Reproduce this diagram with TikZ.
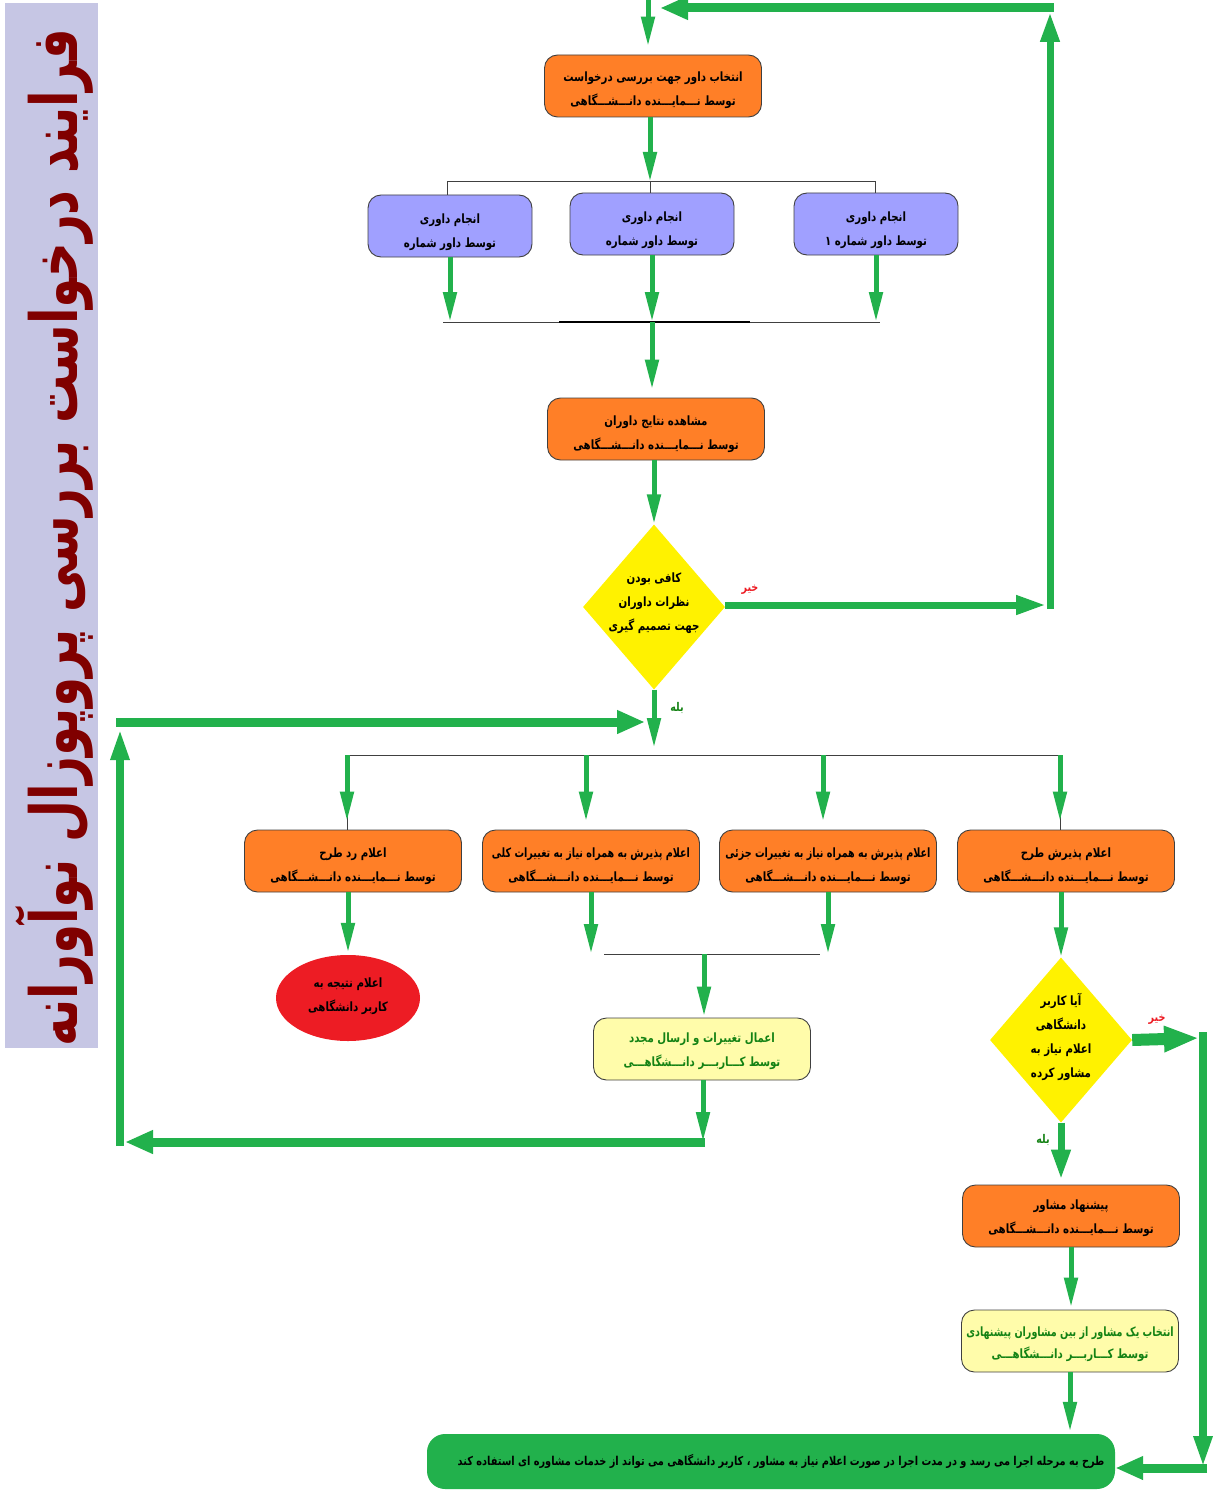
\documentclass[tikz,border=0pt]{standalone}
\usepackage{fontspec}
\newfontfamily\arabicfont[Script=Arabic]{DejaVu Sans}
\TeXXeTstate=1
\usetikzlibrary{arrows.meta,shapes.geometric}
\newcommand\fa[1]{\scalebox{0.8}[1]{\arabicfont\bfseries\beginR #1\endR}}
\newcommand\fan[1]{\scalebox{0.75}[1]{\arabicfont\bfseries\beginR #1\endR}}
\definecolor{orangebox}{RGB}{255,127,39}
\definecolor{bluebox}{RGB}{160,160,255}
\definecolor{diayellow}{RGB}{255,242,0}
\definecolor{redell}{RGB}{237,28,36}
\definecolor{lightyel}{RGB}{255,252,170}
\definecolor{agreen}{RGB}{34,177,76}
\definecolor{txtgreen}{RGB}{20,130,20}
\definecolor{titlebg}{RGB}{198,198,228}
\definecolor{titlered}{RGB}{128,0,0}
\definecolor{labelred}{RGB}{237,28,36}
\begin{document}
\begin{tikzpicture}[x=1pt,y=-1pt,
  boxbase/.style={draw=black!75, line width=0.9pt, rounded corners=13pt, inner sep=0pt,
    minimum width=217pt, minimum height=62pt},
  obox/.style={boxbase, fill=orangebox},
  bbox/.style={boxbase, fill=bluebox, minimum width=164pt},
  ybox/.style={boxbase, fill=lightyel},
  btxt/.style={align=center, inner sep=0pt, font=\fontsize{12.8}{24}\selectfont},
  gtxt/.style={btxt, text=txtgreen},
  dshape/.style={diamond, fill=diayellow, inner sep=0pt, minimum width=142pt, minimum height=165pt},
  dtext/.style={align=center, inner sep=0pt, font=\fontsize{12.8}{23.8}\selectfont},
  jline/.style={draw=black!75, line width=1pt},
  garrow/.style={draw=agreen, line width=5pt, -{Triangle[length=30pt,width=13pt]}},
  gmid/.style={draw=agreen, line width=7pt, -{Triangle[length=30pt,width=18pt]}},
  gthick/.style={draw=agreen, line width=9pt, -{Triangle[length=28pt,width=22pt]}},
  gvert/.style={draw=agreen, line width=8pt, -{Triangle[length=32pt,width=17pt]}},
  gfat/.style={draw=agreen, line width=12pt, -{Triangle[length=35pt,width=24pt]}},
  lab/.style={inner sep=0pt, font=\fontsize{12}{12}\selectfont}
]
\useasboundingbox (0,0) rectangle (1214,1490);

% title
\node[fill=titlebg, minimum width=93pt, minimum height=1045pt, inner sep=0pt] (tbar) at (51.5,525.5) {};
\node[rotate=90, text=titlered, inner sep=0pt, font=\fontsize{52}{56}\selectfont] (title) at (54,538)
  {\scalebox{0.93}[1.25]{\arabicfont\bfseries\beginR فرایند درخواست بررسی پروپوزال نوآورانه\endR}};

% upper part
\node[obox] (b1) at (653,86) {};
\node[btxt] (b1t) at ([yshift=-4pt]b1.center) {\fa{انتخاب داور جهت بررسی درخواست}\\\fa{توسط نـــمایـــنده دانـــشـــگاهی}};
\node[bbox] (bL) at (450,226) {};
\node[btxt] (bLt) at ([yshift=-6pt]bL.center) {\fa{انجام داوری}\\\fa{توسط داور شماره}};
\node[bbox] (bC) at (652,224) {};
\node[btxt] (bCt) at ([yshift=-6pt]bC.center) {\fa{انجام داوری}\\\fa{توسط داور شماره}};
\node[bbox] (bR) at (876,224) {};
\node[btxt] (bRt) at ([yshift=-6pt]bR.center) {\fa{انجام داوری}\\\fa{توسط داور شماره ۱}};
\node[obox] (b2) at (656,429) {};
\node[btxt] (b2t) at ([yshift=-5pt]b2.center) {\fa{مشاهده نتایج داوران}\\\fa{توسط نـــمایـــنده دانـــشـــگاهی}};
\node[dshape] (d1) at (654,607) {};
\node[dtext] (d1t) at ([yshift=4pt]d1.center) {\fa{کافی بودن}\\\fa{نظرات داوران}\\\fa{جهت تصمیم گیری}};

% middle row
\node[obox] (A) at (353,861) {};
\node[btxt] (At) at ([yshift=-5pt]A.center) {\fa{اعلام رد طرح}\\\fa{توسط نـــمایـــنده دانـــشـــگاهی}};
\node[obox] (B) at (591,861) {};
\node[btxt] (Bt) at ([yshift=-5pt]B.center) {\fan{اعلام پذیرش به همراه نیاز به تغییرات کلی}\\\fa{توسط نـــمایـــنده دانـــشـــگاهی}};
\node[obox] (C) at (828,861) {};
\node[btxt] (Ct) at ([yshift=-5pt]C.center) {\fan{اعلام پذیرش به همراه نیاز به تغییرات جزئی}\\\fa{توسط نـــمایـــنده دانـــشـــگاهی}};
\node[obox] (D) at (1066,861) {};
\node[btxt] (Dt) at ([yshift=-5pt]D.center) {\fa{اعلام پذیرش طرح}\\\fa{توسط نـــمایـــنده دانـــشـــگاهی}};
\node[ellipse, fill=redell, minimum width=144pt, minimum height=86pt, inner sep=0pt] (ell) at (348,998) {};
\node[btxt] (ellt) at ([yshift=2pt]ell.center) {\fa{اعلام نتیجه به}\\\fa{کاربر دانشگاهی}};
\node[ybox] (Y1) at (702,1049) {};
\node[gtxt] (Y1t) at ([yshift=-2pt]Y1.center) {\fa{اعمال تغییرات و ارسال مجدد}\\\fa{توسط کـــاربـــر دانـــشگاهـــی}};
\node[dshape] (d2) at (1061,1040) {};
\node[dtext] (d2t) at ([yshift=3pt]d2.center) {\fa{آیا کاربر}\\\fa{دانشگاهی}\\\fa{اعلام نیاز به}\\\fa{مشاور کرده}};
\node[obox] (E) at (1071,1216) {};
\node[btxt] (Et) at ([yshift=-2pt]E.center) {\fa{پیشنهاد مشاور}\\\fa{توسط نـــمایـــنده دانـــشـــگاهی}};
\node[ybox] (F) at (1070,1341) {};
\node[gtxt, font=\fontsize{12.8}{22}\selectfont] (Ft) at ([yshift=-3pt]F.center) {\fan{انتخاب یک مشاور از بین مشاوران پیشنهادی}\\\fa{توسط کـــاربـــر دانـــشگاهـــی}};
\node[fill=agreen, rounded corners=18pt, minimum width=688pt, minimum height=55pt, inner sep=0pt] (fin) at (771,1461.5) {};
\node[inner sep=0pt, font=\fontsize{12.2}{12}\selectfont] (fint) at ([xshift=10pt]fin.center)
  {\fa{طرح به مرحله اجرا می رسد و در مدت اجرا در صورت اعلام نیاز به مشاور ، کاربر دانشگاهی می تواند از خدمات مشاوره ای استفاده کند}};

% labels
\node[lab, text=labelred] (no1) at (750,590) {\fa{خیر}};
\node[lab, text=txtgreen] (yes1) at (677,708) {\fa{بله}};
\node[lab, text=labelred] (no2) at (1157,1020) {\fa{خیر}};
\node[lab, text=txtgreen] (yes2) at (1043,1140) {\fa{بله}};

% coordinates
\coordinate (start) at (648,0);
\coordinate (j1) at (650,182);
\coordinate (j2) at (652,322);
\coordinate (j2w) at (443,322);
\coordinate (j2e) at (880,322);
\coordinate (j2a) at (559,322);
\coordinate (j2b) at (750,322);
\coordinate (r1) at (1050,605);
\coordinate (r2) at (1050,8);
\coordinate (r3) at (660,8);
\coordinate (j3) at (654,755);
\coordinate (L1) at (703,1142);
\coordinate (L2) at (120,1142);
\coordinate (L3) at (120,722);
\coordinate (L4) at (645,722);
\coordinate (j4) at (704,954);
\coordinate (j4w) at (604,954);
\coordinate (j4e) at (820,954);
\coordinate (R1) at (1203,1038);
\coordinate (R2) at (1203,1468);

% connectors - upper
\draw[garrow] (start) -- ([yshift=8pt]b1.north -| start);
\draw[garrow] (b1.south -| j1) -- (j1);
\draw[jline] (bL.north -| 447,0) -- (447,182) -- (875,182) -- (bR.north -| 875,0);
\draw[jline] (j1) -- (bC.north -| j1);
\draw[garrow] (bL.south) -- (bL.south |- j2);
\draw[garrow] (bC.south) -- (j2);
\draw[garrow] (bR.south) -- (bR.south |- j2);
\draw[jline] (j2w) -- (j2e);
\draw[draw=black, line width=2.2pt] (j2a) -- (j2b);
\draw[garrow] (j2) -- ([yshift=8pt]b2.north -| j2);
\draw[garrow] (b2.south -| d1.north) -- (d1.north);

% no-loop (right)
\draw[gmid] ([yshift=2pt]d1.east) -- ([xshift=-4pt]r1);
\draw[gmid] ([yshift=-4pt]r1) -- ([yshift=-4pt]r2);
\draw[gthick] ([xshift=3.5pt]r2) -- (r3);

% yes branch
\draw[garrow] (d1.south) -- ([yshift=7pt]j3);
\draw[jline] (A.north -| 347,0) -- (347,755) -- (1060,755) -- (D.north -| 1060,0);
\draw[garrow] (347,755) -- ([yshift=8pt]A.north -| 347,0);
\draw[garrow] (586,755) -- ([yshift=8pt]B.north -| 586,0);
\draw[garrow] (823,755) -- ([yshift=8pt]C.north -| 823,0);
\draw[garrow] (1060,755) -- ([yshift=8pt]D.north -| 1060,0);

% lower left
\draw[garrow] (A.south -| ell.north) -- ([yshift=2pt]ell.north);
\draw[garrow] (B.south) -- (B.south |- j4);
\draw[garrow] (C.south) -- (C.south |- j4);
\draw[jline] (j4w) -- (j4e);
\draw[garrow] (j4) -- ([yshift=1pt]Y1.north -| j4);
\draw[garrow] (Y1.south -| L1) -- (L1);
\draw[gthick] ([xshift=2pt]L1) -- ([xshift=5pt]L2);
\draw[gvert] ([yshift=-4pt]L2) -- ([yshift=-6pt]L3);
\draw[gthick] ([xshift=-4pt]L3) -- (L4);

% lower right
\draw[garrow] (D.south -| d2.north) -- (d2.north);
\draw[gfat] (d2.east) -- ([xshift=-4pt]R1);
\draw[gvert] ([yshift=6pt]R1) -- (R2);
\draw[gthick] ([xshift=4pt]R2) -- (fin.east |- R2);
\draw[gmid] (d2.south) -- ([yshift=5pt]E.north -| d2.south);
\draw[garrow] (E.south) -- ([yshift=2pt]F.north -| E.south);
\draw[garrow] (F.south) -- ([yshift=2pt]fin.north -| F.south);
\end{tikzpicture}
\end{document}
